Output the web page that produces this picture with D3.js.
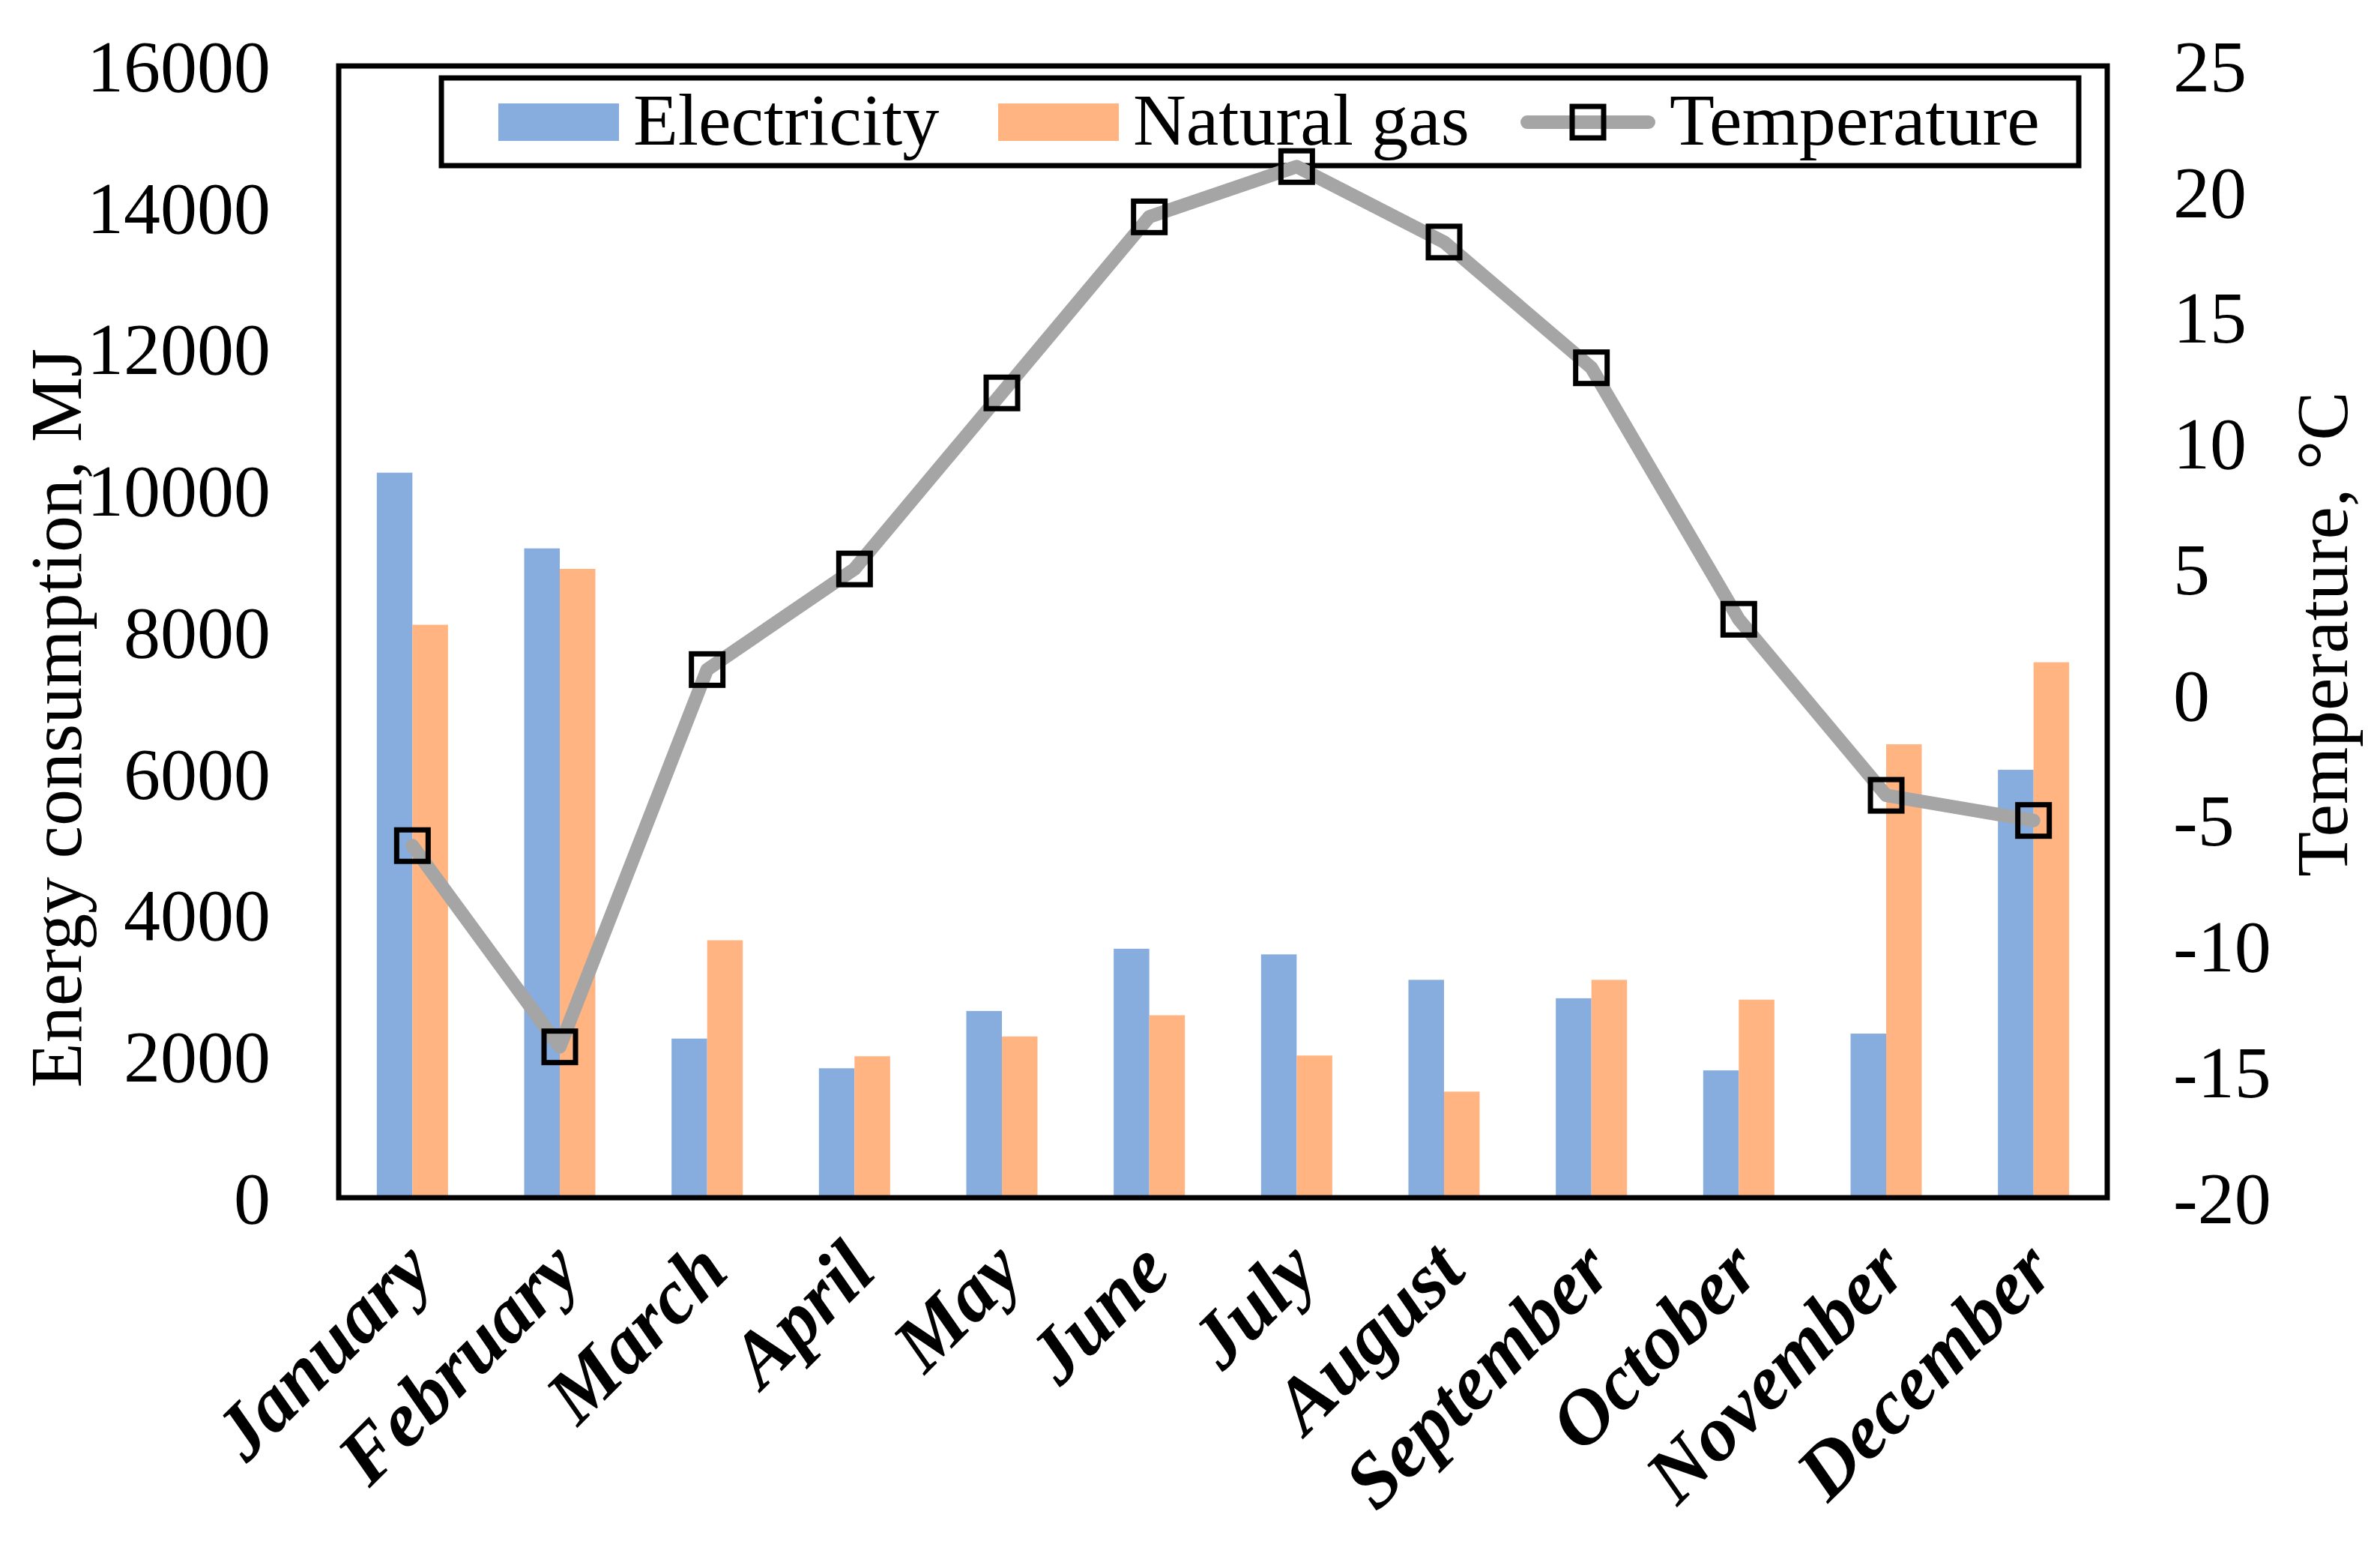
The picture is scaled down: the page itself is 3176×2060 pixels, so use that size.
<!DOCTYPE html>
<html><head><meta charset="utf-8">
<script src="https://cdn.jsdelivr.net/npm/d3@7"></script>
<style>html,body{margin:0;padding:0;background:#fff;}svg{display:block;}</style>
</head><body>
<script>
const months = ["January","February","March","April","May","June","July","August","September","October","November","December"];
const electricity = [10250, 9180, 2250, 1830, 2640, 3520, 3440, 3080, 2820, 1800, 2320, 6050];
const naturalGas = [8100, 8890, 3640, 2000, 2280, 2580, 2010, 1500, 3080, 2800, 6410, 7570];
const temperature = [-6, -14, 1, 5, 12, 19, 21, 18, 13, 3, -4, -5];
const leftTicks = [0, 2000, 4000, 6000, 8000, 10000, 12000, 14000, 16000];
const rightTicks = [-20, -15, -10, -5, 0, 5, 10, 15, 20, 25];
const seriesNames = ["Electricity", "Natural gas", "Temperature"];
const seriesColors = ["#86ADDE", "#FFB482", "#A5A5A5"];

const W = 3176, H = 2060;
const m = {left: 452, right: 2812, top: 88, bottom: 1598};
const font = "'Liberation Serif','Times New Roman',serif";

const svg = d3.select("body").append("svg").attr("width", W).attr("height", H)
  .style("font-family", font);

const x = d3.scaleBand().domain(months).range([m.left, m.right]).paddingInner(0).paddingOuter(0);
const xs = d3.scaleBand().domain([0, 1]).range([0, x.bandwidth()]).paddingInner(0).paddingOuter(1.07);
const yL = d3.scaleLinear().domain([0, 16000]).range([m.bottom, m.top]);
const yR = d3.scaleLinear().domain([-20, 25]).range([m.bottom, m.top]);

// legend (no fill, drawn beneath series)
const ms = 42;
const lg = svg.append("g");
lg.append("rect").attr("x", 589).attr("y", 104).attr("width", 2774 - 589).attr("height", 117)
  .attr("fill", "none").attr("stroke", "#000").attr("stroke-width", 7);
const swX = [665, 1332];
[0, 1].forEach(i => {
  lg.append("rect").attr("x", swX[i]).attr("y", 138).attr("width", 161).attr("height", 50).attr("fill", seriesColors[i]);
  lg.append("text").attr("x", swX[i] + 180).attr("y", 193).attr("font-size", 98).text(seriesNames[i]);
});
lg.append("line").attr("x1", 2038).attr("x2", 2200).attr("y1", 163).attr("y2", 163)
  .attr("stroke", seriesColors[2]).attr("stroke-width", 18).attr("stroke-linecap", "round");
lg.append("rect").attr("x", 2119 - ms / 2).attr("y", 163 - ms / 2).attr("width", ms).attr("height", ms)
  .attr("fill", "none").attr("stroke", "#000").attr("stroke-width", 7);
lg.append("text").attr("x", 2228).attr("y", 193).attr("font-size", 98).text(seriesNames[2]);

// bars
const g = svg.append("g");
[electricity, naturalGas].forEach((arr, si) => {
  g.selectAll(null).data(arr).enter().append("rect")
    .attr("x", (d, i) => x(months[i]) + xs(si))
    .attr("y", d => yL(d))
    .attr("width", xs.bandwidth())
    .attr("height", d => m.bottom - yL(d))
    .attr("fill", seriesColors[si]);
});

// line
const line = d3.line().x((d, i) => x(months[i]) + x.bandwidth() / 2).y(d => yR(d));
svg.append("path").datum(temperature).attr("d", line)
  .attr("fill", "none").attr("stroke", seriesColors[2]).attr("stroke-width", 18)
  .attr("stroke-linejoin", "round").attr("stroke-linecap", "round");
svg.selectAll(null).data(temperature).enter().append("rect")
  .attr("x", (d, i) => x(months[i]) + x.bandwidth() / 2 - ms / 2)
  .attr("y", d => yR(d) - ms / 2)
  .attr("width", ms).attr("height", ms)
  .attr("fill", "none").attr("stroke", "#000").attr("stroke-width", 7);

// frame
svg.append("rect").attr("x", m.left).attr("y", m.top)
  .attr("width", m.right - m.left).attr("height", m.bottom - m.top)
  .attr("fill", "none").attr("stroke", "#000").attr("stroke-width", 7);

// left axis
const axL = d3.axisLeft(yL).tickValues(leftTicks).tickSize(0).tickPadding(0).tickFormat(d => String(d));
const gL = svg.append("g").attr("transform", `translate(361,0)`).call(axL);
gL.select(".domain").remove();
gL.selectAll("text").attr("font-size", 98).attr("font-family", font).attr("fill", "#000").attr("dy", "0.34em");

// right axis
const axR = d3.axisRight(yR).tickValues(rightTicks).tickSize(0).tickPadding(0).tickFormat(d => String(d));
const gR = svg.append("g").attr("transform", `translate(2900,0)`).call(axR);
gR.select(".domain").remove();
gR.selectAll("text").attr("font-size", 98).attr("font-family", font).attr("fill", "#000").attr("dy", "0.34em");

// bottom axis labels
const axB = d3.axisBottom(x).tickSize(0).tickPadding(0);
const gB = svg.append("g").attr("transform", `translate(0,${m.bottom})`).call(axB);
gB.select(".domain").remove();
gB.selectAll("text").attr("font-size", 104).attr("font-family", font)
  .attr("font-style", "italic").attr("font-weight", "bold").attr("fill", "#000")
  .attr("text-anchor", "end").attr("dy", null).attr("y", null)
  .attr("transform", "translate(32,102) rotate(-45)");

// axis titles
svg.append("text").attr("transform", `translate(108,958) rotate(-90)`)
  .attr("text-anchor", "middle").attr("font-size", 98).text("Energy consumption, MJ");
svg.append("text").attr("transform", `translate(3132,846) rotate(-90)`)
  .attr("text-anchor", "middle").attr("font-size", 98).text("Temperature, °C");
</script>
</body></html>
